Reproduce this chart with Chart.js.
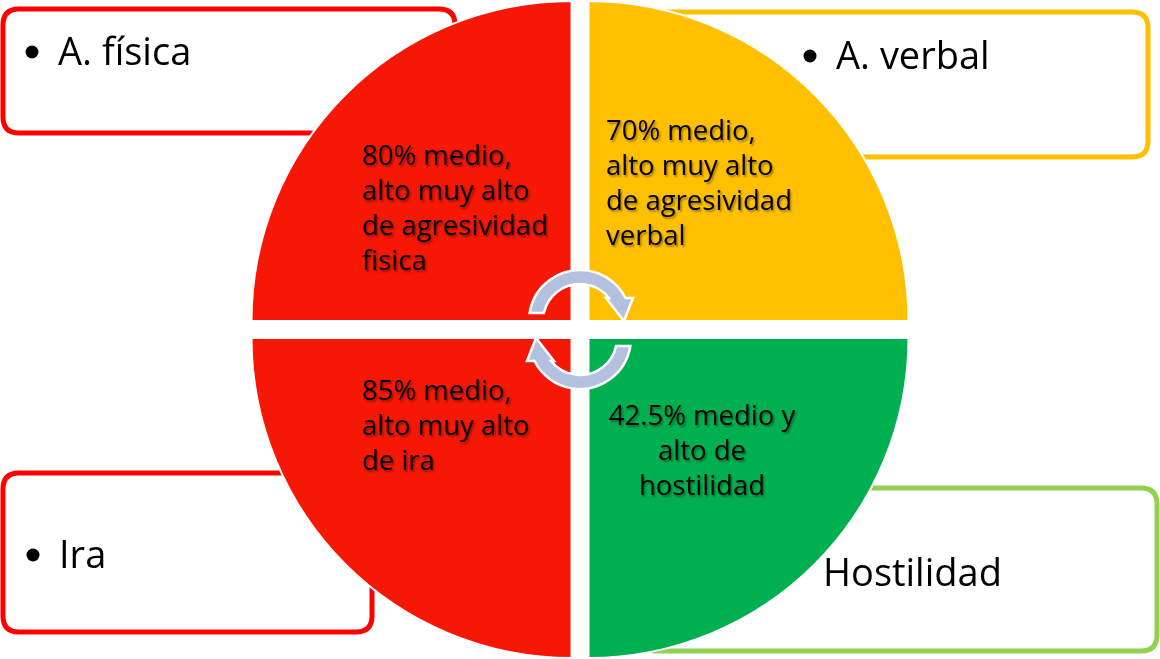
<!DOCTYPE html>
<html>
<head>
<meta charset="utf-8">
<script src="https://cdn.jsdelivr.net/npm/chart.js@4.4.1/dist/chart.umd.min.js"></script>
<style>
  html, body { margin: 0; padding: 0; background: #fff; }
  #wrap { width: 1160px; height: 659px; position: relative; }
</style>
</head>
<body>
<div id="wrap"><canvas id="cycleChart"></canvas></div>
<script>
// Quadrants, clockwise from the top (Chart.js starts at 12 o'clock)
const categories = ['A. verbal', 'Hostilidad', 'Ira', 'A. física'];
const quadrantSizes = [1, 1, 1, 1];
const percentages = [70, 42.5, 85, 80];
const sliceLines = [
    ['medio,', 'alto muy alto', 'de agresividad', 'verbal'],
    ['medio y', 'alto de', 'hostilidad'],
    ['medio,', 'alto muy alto', 'de ira'],
    ['medio,', 'alto muy alto', 'de agresividad', 'fisica']
];
const showBullet = [true, false, true, true];

const sliceColors = ['#ffc000', '#00b050', '#f61705', '#f61705'];
const boxColors = ['#ffc000', '#92d050', '#ff0000', '#ff0000'];

const FONT = '"Open Sans", "Noto Sans", sans-serif';

// Box frames behind the circle
const boxLayout = [
    { x: 640, y: 12, w: 508, h: 145, bx: 810, by: 56, tx: 836, ty: 69 },
    { x: 640, y: 488, w: 517, h: 163, bx: null, by: null, tx: 823, ty: 586 },
    { x: 3, y: 473, w: 369, h: 159, bx: 33, by: 555, tx: 59, ty: 568 },
    { x: 3, y: 9, w: 452, h: 124, bx: 32, by: 52, tx: 58, ty: 65 }
];

// Slice text placement, relative to the centre of the circle
const textLayout = [
    { dx: 26, dy: -189.5, align: 'left' },
    { dx: 122, dy: 95.5, align: 'center' },
    { dx: -218, dy: 70.5, align: 'left' },
    { dx: -218, dy: -164.5, align: 'left' }
];

function roundRect(ctx, x, y, w, h, r) {
    ctx.beginPath();
    ctx.moveTo(x + r, y);
    ctx.lineTo(x + w - r, y);
    ctx.quadraticCurveTo(x + w, y, x + w, y + r);
    ctx.lineTo(x + w, y + h - r);
    ctx.quadraticCurveTo(x + w, y + h, x + w - r, y + h);
    ctx.lineTo(x + r, y + h);
    ctx.quadraticCurveTo(x, y + h, x, y + h - r);
    ctx.lineTo(x, y + r);
    ctx.quadraticCurveTo(x, y, x + r, y);
    ctx.closePath();
}

const boxesPlugin = {
    id: 'boxes',
    beforeDatasetsDraw(chart) {
        const ctx = chart.ctx;
        ctx.save();
        categories.forEach((name, i) => {
            const b = boxLayout[i];
            roundRect(ctx, b.x, b.y, b.w, b.h, 16);
            ctx.fillStyle = '#fff';
            ctx.fill();
            ctx.lineWidth = 5;
            ctx.strokeStyle = boxColors[i];
            ctx.stroke();

            ctx.fillStyle = '#000';
            if (showBullet[i]) {
                ctx.beginPath();
                ctx.arc(b.bx, b.by, 6.5, 0, Math.PI * 2);
                ctx.fill();
            }
            ctx.font = '38px ' + FONT;
            ctx.textAlign = 'left';
            ctx.textBaseline = 'alphabetic';
            ctx.fillText(name, b.tx, b.ty);
        });
        ctx.restore();
    }
};

// Curved arrow around (cx, cy - 8.5); drawn again rotated 180 deg for the lower one
function drawArrow(ctx, cx, cy) {
    const ro = 51, ri = 37;
    const oy = cy - 8.5;
    const tailY = -8, headY = -23;
    const aTailO = Math.PI + Math.asin(-tailY / ro);
    const aTailI = Math.PI + Math.asin(-tailY / ri);
    const aHeadO = -Math.asin(-headY / ro) + Math.PI * 2;
    const aHeadI = -Math.asin(-headY / ri) + Math.PI * 2;

    ctx.beginPath();
    ctx.arc(cx, oy, ro, aTailO, aHeadO, false);
    ctx.lineTo(cx + 53, oy + headY);
    ctx.lineTo(cx + 44, oy);
    ctx.lineTo(cx + 26, oy + headY);
    ctx.arc(cx, oy, ri, aHeadI, aTailI, true);
    ctx.closePath();
    ctx.fillStyle = '#b4c0df';
    ctx.fill();
    ctx.lineWidth = 2.5;
    ctx.strokeStyle = '#fff';
    ctx.stroke();
}

const overlayPlugin = {
    id: 'overlay',
    afterDatasetsDraw(chart) {
        const ctx = chart.ctx;
        const arcs = chart.getDatasetMeta(0).data;
        const cx = arcs[0].x, cy = arcs[0].y;

        ctx.save();
        drawArrow(ctx, cx, cy);
        ctx.translate(cx, cy);
        ctx.rotate(Math.PI);
        ctx.translate(-cx, -cy);
        drawArrow(ctx, cx, cy);
        ctx.restore();

        ctx.save();
        ctx.font = '27.5px ' + FONT;
        ctx.fillStyle = '#000';
        ctx.textBaseline = 'alphabetic';
        ctx.shadowColor = 'rgba(0,0,0,0.35)';
        ctx.shadowOffsetX = 1.5;
        ctx.shadowOffsetY = 1.5;
        ctx.shadowBlur = 2;
        sliceLines.forEach((lines, i) => {
            const t = textLayout[i];
            ctx.textAlign = t.align;
            const all = [percentages[i] + '% ' + lines[0]].concat(lines.slice(1));
            all.forEach((line, k) => {
                ctx.fillText(line, cx + t.dx, cy + t.dy + k * 35);
            });
        });
        ctx.restore();
    }
};

new Chart(document.getElementById('cycleChart'), {
    type: 'pie',
    data: {
        labels: categories,
        datasets: [{
            data: quadrantSizes,
            backgroundColor: sliceColors,
            borderColor: '#ffffff',
            borderWidth: 2,
            // Chart.js v4 moves each arc by offset / 4 along its mid-angle
            offset: 48,
            hoverOffset: 0
        }]
    },
    options: {
        responsive: true,
        maintainAspectRatio: false,
        animation: false,
        radius: 320,
        layout: { padding: 0 },
        plugins: {
            legend: { display: false },
            tooltip: { enabled: false }
        },
        events: []
    },
    plugins: [boxesPlugin, overlayPlugin]
});
</script>
</body>
</html>
